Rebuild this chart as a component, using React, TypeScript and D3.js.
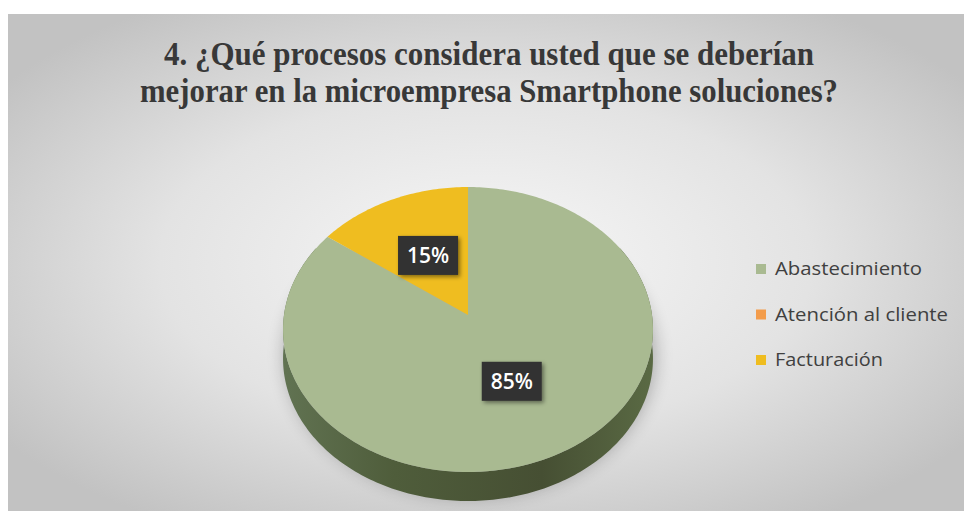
import React from "react";
import * as d3 from "d3";

const categories = ["Abastecimiento", "Atención al cliente", "Facturación"];
const values = [85, 0, 15];
const labels = ["85%", "", "15%"];
const colors = ["#a9ba91", "#f39c4b", "#efbd20"];
const legendWidths = [147, 173, 108];
const titleLines = [
  "4. ¿Qué procesos considera usted que se deberían",
  "mejorar en la microempresa Smartphone soluciones?",
];

const W = 964;
const H = 511;
const cx = 468;
const cy = 315;
const rx = 184;
const ry = 141;
const persp = 0.102;
const depth = 29;

function proj(theta: number, r: number, h = 0): [number, number] {
  const u = r * Math.sin(theta);
  const v = -r * Math.cos(theta);
  const s = 1 - persp * v;
  return [cx + (rx * u) / s, cy + (ry * v) / s + h];
}

export default function App() {
  const pie = d3.pie<number>().sort(null).value((d) => d);
  const arcs = pie(values);
  const line = d3.line();
  const angleStep = Math.PI / 180;

  const slicePath = (a0: number, a1: number) => {
    const pts: [number, number][] = [proj(0, 0)];
    const n = Math.max(2, Math.ceil((a1 - a0) / angleStep));
    for (let i = 0; i <= n; i++) pts.push(proj(a0 + ((a1 - a0) * i) / n, 1));
    return line(pts) + "Z";
  };

  const sidePts: [number, number][] = [];
  const s0 = (60 * Math.PI) / 180;
  const s1 = (300 * Math.PI) / 180;
  for (let t = s0; t <= s1 + 1e-9; t += angleStep) sidePts.push(proj(t, 1));
  for (let t = s1; t >= s0 - 1e-9; t -= angleStep) sidePts.push(proj(t, 1, depth));
  const sidePath = line(sidePts) + "Z";

  const shadowPts: [number, number][] = [];
  for (let t = 0; t <= 2 * Math.PI + 1e-9; t += angleStep) {
    const p = proj(t, 1.0, depth - 4);
    shadowPts.push([p[0] + 2, p[1]]);
  }
  const shadowPath = line(shadowPts) + "Z";

  const legendY = d3.scalePoint<string>().domain(categories).range([269, 360]);

  return (
    <svg
      width={W}
      height={H}
      style={{ position: "absolute", left: 0, top: 0, display: "block" }}
    >
      <defs>
        <radialGradient id="bg" cx="0.5" cy="0.5" r="0.62">
          <stop offset="0" stopColor="#f7f7f7" />
          <stop offset="0.55" stopColor="#e3e3e3" />
          <stop offset="1" stopColor="#c2c2c2" />
        </radialGradient>
        <linearGradient id="side" x1="0" x2="1" y1="0" y2="0">
          <stop offset="0" stopColor="#617352" />
          <stop offset="0.3" stopColor="#4f5d3b" />
          <stop offset="0.7" stopColor="#464f33" />
          <stop offset="1" stopColor="#5a6a44" />
        </linearGradient>
        <filter id="blur" x="-20%" y="-20%" width="140%" height="140%">
          <feGaussianBlur stdDeviation="9" />
        </filter>
        <filter id="lblShadow" x="-30%" y="-30%" width="160%" height="160%">
          <feDropShadow dx="2" dy="2" stdDeviation="2" floodColor="#000" floodOpacity="0.45" />
        </filter>
      </defs>
      <rect x={0} y={0} width={W} height={H} fill="#ffffff" />
      <rect x={8} y={14} width={W - 8} height={H - 14} fill="url(#bg)" />

      {titleLines.map((t, i) => (
        <text
          key={i}
          x={489}
          y={65 + i * 37}
          textAnchor="middle"
          fontFamily="Liberation Serif, DejaVu Serif, serif"
          fontWeight="bold"
          fontSize={33}
          fill="#383838"
          textLength={i === 0 ? 650 : 698}
          lengthAdjust="spacingAndGlyphs"
        >
          {t}
        </text>
      ))}

      <path d={shadowPath} fill="#000" opacity={0.28} filter="url(#blur)" />
      <path d={sidePath} fill="url(#side)" />
      {arcs.map((a, i) =>
        a.endAngle > a.startAngle ? (
          <path key={i} d={slicePath(a.startAngle, a.endAngle)} fill={colors[i]} />
        ) : null
      )}

      {arcs.map((a, i) => {
        if (!labels[i]) return null;
        const mid = (a.startAngle + a.endAngle) / 2;
        const [lx, ly] = proj(mid, 0.5);
        return (
          <g key={"l" + i} transform={`translate(${lx},${ly})`}>
            <rect x={-30} y={-19} width={60} height={39} fill="#303030" filter="url(#lblShadow)" />
            <text
              x={0}
              y={8}
              textAnchor="middle"
              fontFamily="Open Sans, sans-serif"
              fontWeight="600"
              fontSize={21}
              fill="#ffffff"
            >
              {labels[i]}
            </text>
          </g>
        );
      })}

      {categories.map((c, i) => {
        const y = legendY(c) as number;
        return (
          <g key={"lg" + i}>
            <rect x={756} y={y - 5} width={10} height={10} fill={colors[i]} />
            <text
              x={775}
              y={y + 6}
              fontFamily="Open Sans, sans-serif"
              fontSize={18}
              fill="#404040"
              textLength={legendWidths[i]}
              lengthAdjust="spacingAndGlyphs"
            >
              {c}
            </text>
          </g>
        );
      })}
    </svg>
  );
}
